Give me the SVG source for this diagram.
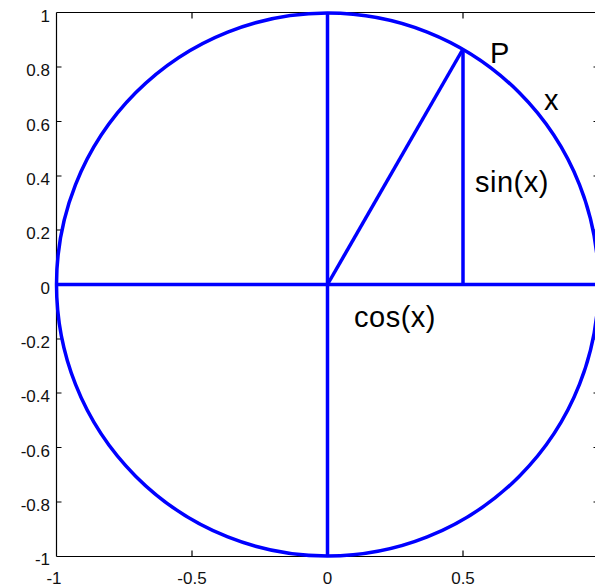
<svg xmlns="http://www.w3.org/2000/svg" width="595" height="587" viewBox="0 0 595 587">
<style>
.ax{stroke:#000;stroke-width:1.2;fill:none}
.bl{stroke:#0000ff;stroke-width:3.5;fill:none;stroke-linecap:butt}
.tl{font-family:"Liberation Sans",Arial,sans-serif;font-size:17px;fill:#111}
.yl{text-anchor:end}
.xl{text-anchor:middle}
.lab{font-family:"Liberation Sans",Arial,sans-serif;font-size:29px;fill:#000;letter-spacing:0.5px}
</style>
<rect width="595" height="587" fill="#fff"/>
<g id="axes">
<path class="ax" d="M56.5 12.5H600M56.5 556.5H600M56.5 12.5V556.5"/>
<path class="ax" d="M56.5 67h5M56.5 121.5h5M56.5 176h5M56.5 230h5M56.5 284.5h5M56.5 339h5M56.5 393h5M56.5 447.5h5M56.5 502h5"/>
<path class="ax" d="M598.5 67h-5M598.5 121.5h-5M598.5 176h-5M598.5 230h-5M598.5 284.5h-5M598.5 339h-5M598.5 393h-5M598.5 447.5h-5M598.5 502h-5"/>
<path class="ax" d="M192 556.5v-6M327.5 556.5v-6M463 556.5v-6M192 12.5v6M327.5 12.5v6M463 12.5v6"/>
<g class="tl yl">
<text x="50" y="22">1</text>
<text x="50" y="76">0.8</text>
<text x="50" y="130.5">0.6</text>
<text x="50" y="185">0.4</text>
<text x="50" y="239">0.2</text>
<text x="50" y="293.5">0</text>
<text x="50" y="348">-0.2</text>
<text x="50" y="402">-0.4</text>
<text x="50" y="456.5">-0.6</text>
<text x="50" y="511">-0.8</text>
<text x="50" y="565">-1</text>
</g>
<g class="tl xl">
<text x="54" y="584">-1</text>
<text x="192" y="584">-0.5</text>
<text x="327.5" y="584">0</text>
<text x="463" y="584">0.5</text>
</g>
</g>
<g id="circle">
<ellipse class="bl" cx="327.5" cy="284.5" rx="271" ry="271.5"/>
</g>
<g id="connectors">
<path class="bl" d="M56.5 284.5H600"/>
<path class="bl" d="M327.5 13V556"/>
<path class="bl" d="M327.5 284.5L463 49"/>
<path class="bl" d="M463 49V284.5"/>
</g>
<g id="labels">
<text class="lab" x="490" y="63">P</text>
<text class="lab" x="544" y="110">x</text>
<text class="lab" x="475" y="192">sin(x)</text>
<text class="lab" x="354" y="327">cos(x)</text>
</g>
</svg>
